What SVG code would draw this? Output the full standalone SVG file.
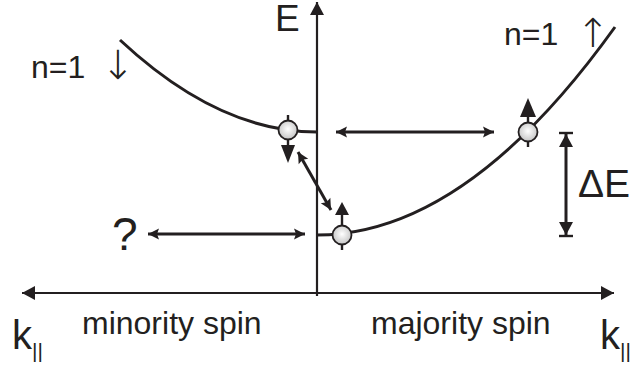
<svg xmlns="http://www.w3.org/2000/svg" width="631" height="369" viewBox="0 0 631 369">
<style>
.t{font-family:"Liberation Sans",Arial,sans-serif;fill:#231f20}
.sy{font-family:"Noto Sans","DejaVu Sans",sans-serif;font-weight:300;fill:#231f20}
.ax{stroke:#231f20;stroke-width:2.2;fill:none}
.cv{stroke:#231f20;stroke-width:3;fill:none}
.ar{stroke:#231f20;stroke-width:3;fill:none}
.ball{fill:url(#bg);stroke:#231f20;stroke-width:1.8}
.tk{stroke:#231f20;stroke-width:2.4;fill:none}
.hd{fill:#231f20}
</style>
<defs>
<radialGradient id="bg" cx="0.5" cy="0.45" r="0.55">
<stop offset="0" stop-color="#ffffff"/>
<stop offset="1" stop-color="#c4c4c4"/>
</radialGradient>
<marker id="ah" viewBox="-13 -6 14 12" markerWidth="14" markerHeight="12" refX="0" refY="0" orient="auto-start-reverse" markerUnits="userSpaceOnUse">
<path d="M0,0 L-11,-5.5 L-9,0 L-11,5.5 z" class="hd"/>
</marker>
<marker id="axh" viewBox="-14 -8 15 16" markerWidth="15" markerHeight="16" refX="0" refY="0" orient="auto-start-reverse" markerUnits="userSpaceOnUse">
<path d="M0,0 L-13,-7 L-13,7 z" class="hd"/>
</marker>
</defs>

<g id="axes">
<line class="ax" x1="317" y1="296" x2="317" y2="2" marker-end="url(#axh)"/>
<line class="ax" x1="22" y1="293" x2="614" y2="293" marker-start="url(#axh)" marker-end="url(#axh)"/>
<text class="t" x="275" y="31" font-size="37">E</text>
<text class="t" x="12" y="349" font-size="40">k</text>
<text class="t" x="32" y="358" font-size="21">||</text>
<text class="t" x="600" y="349" font-size="40">k</text>
<text class="t" x="620" y="358" font-size="21">||</text>
<text class="t" x="82" y="334" font-size="32">minority spin</text>
<text class="t" x="371" y="334" font-size="32">majority spin</text>
</g>

<g id="minority-band">
<path class="cv" d="M120,40 Q218.5,132 317,132"/>
<text class="t" x="31" y="78" font-size="32">n=1</text>
<text class="sy" x="101" y="79" font-size="40">↓</text>
</g>

<g id="majority-band">
<path class="cv" d="M317,235 Q466,235 615,27"/>
<text class="t" x="504" y="45" font-size="32">n=1</text>
<text class="sy" x="576" y="47" font-size="40">↑</text>
</g>

<g id="ball-minority">
<line class="tk" x1="288" y1="115" x2="288" y2="121"/>
<line class="tk" x1="288" y1="139" x2="288" y2="147"/>
<path class="hd" d="M281,145 L295,145 L288,163 z"/>
<circle class="ball" cx="288" cy="130" r="9.5"/>
</g>

<g id="ball-majority-low">
<line class="tk" x1="342" y1="212" x2="342" y2="226"/>
<path class="hd" d="M335,215 L349,215 L342,202 z"/>
<line class="tk" x1="342" y1="244" x2="342" y2="250"/>
<circle class="ball" cx="342" cy="235" r="9.5"/>
</g>

<g id="ball-majority-high">
<line class="tk" x1="528" y1="112" x2="528" y2="123"/>
<path class="hd" d="M520,117 L536,117 L528,98 z"/>
<line class="tk" x1="528" y1="141" x2="528" y2="147"/>
<circle class="ball" cx="528" cy="132" r="9.5"/>
</g>

<g id="question">
<text class="t" x="112" y="250" font-size="46">?</text>
</g>

<g id="delta-e">
<line class="tk" x1="559" y1="133" x2="573" y2="133"/>
<line class="tk" x1="559" y1="236" x2="573" y2="236"/>
<line class="ar" x1="566" y1="134" x2="566" y2="235" stroke-width="2.4" marker-start="url(#axh)" marker-end="url(#axh)"/>
<text class="t" x="578" y="197" font-size="39">ΔE</text>
</g>

<g id="connectors">
<line class="ar" x1="336" y1="132" x2="494" y2="132" marker-start="url(#ah)" marker-end="url(#ah)"/>
<line class="ar" x1="148" y1="234" x2="305" y2="234" marker-start="url(#ah)" marker-end="url(#ah)"/>
<line class="ar" x1="298" y1="152" x2="331" y2="210" marker-start="url(#ah)" marker-end="url(#ah)"/>
</g>
</svg>
